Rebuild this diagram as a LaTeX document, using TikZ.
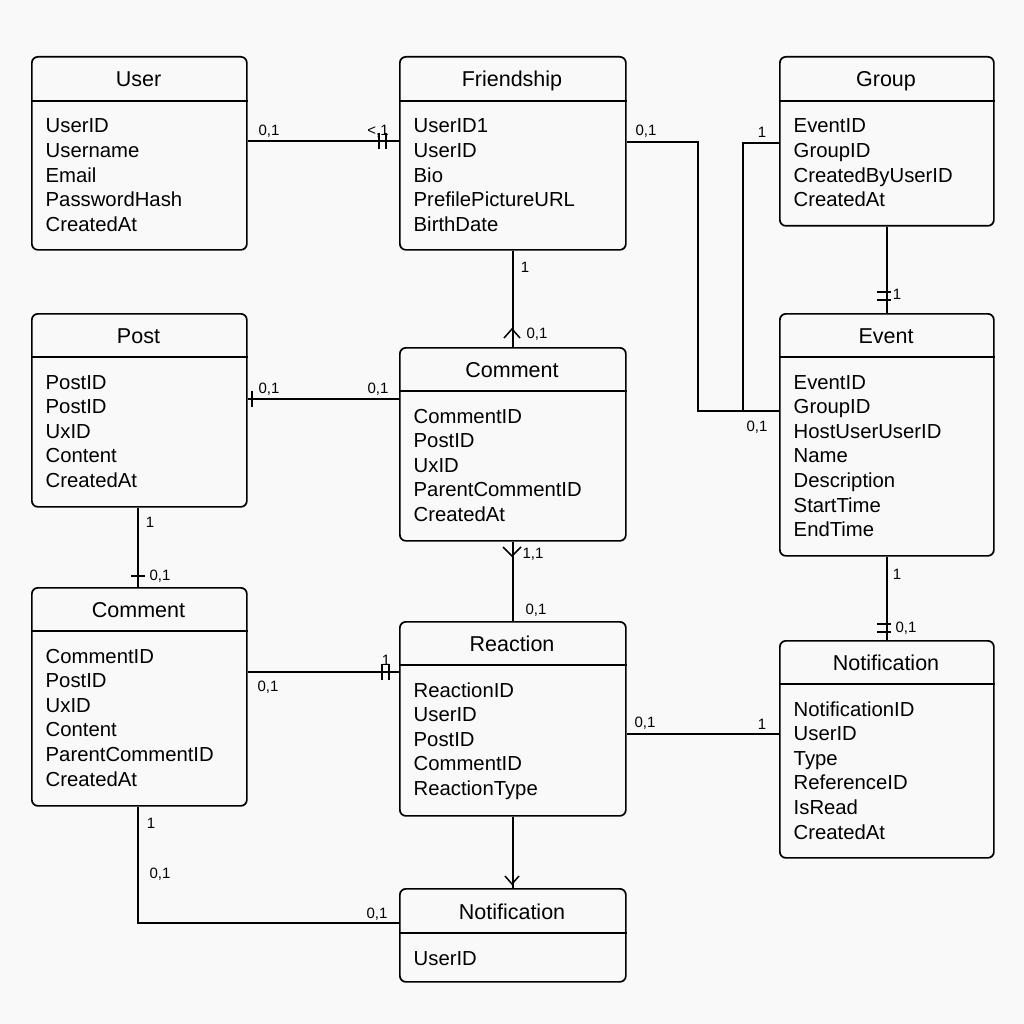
\documentclass[tikz,border=0pt]{standalone}
\usepackage{fontspec}
\setmainfont{Liberation Sans}
\definecolor{bgc}{HTML}{F9F9F9}
\tikzset{
  box/.style={draw=black, line width=1.7pt, rounded corners=6pt, fill=bgc, anchor=north west, inner sep=0pt},
  boxline/.style={line width=1.7pt},
  ttl/.style={font=\fontsize{21.5}{24}\selectfont, anchor=base, inner sep=0pt},
  attr/.style={font=\fontsize{20.3}{24}\selectfont, anchor=base west, inner sep=0pt},
  lbl/.style={font=\fontsize{15}{17}\selectfont, anchor=base, inner sep=0pt},
  conn/.style={line width=1.5pt},
  mk/.style={line width=1.5pt},
}
\newcommand\entity[8]{%
  \node[box, minimum width={#4-#2}, minimum height={#5-#3}] (#1) at (#2,#3) {};
  \draw[boxline] (#1.west |- 0,#6) -- (#1.east |- 0,#6);
  \node[ttl] (#1-t) at ({(#2+#4)/2},{#6-14}) {#7};
  \foreach \a [count=\i] in {#8} {\node[attr] (#1-a\i) at ({#2+14.5},{#6+32+24.6*(\i-1)}) {\a};}
}
\begin{document}
\begin{tikzpicture}[x=1pt,y=-1pt]
\fill[bgc] (0,0) rectangle (1024,1024);
\useasboundingbox (0,0) rectangle (1024,1024);

\entity{user}{31}{56}{246}{249}{101}{User}{UserID,Username,Email,PasswordHash,CreatedAt}
\entity{friend}{399}{56}{625}{249}{101}{Friendship}{UserID1,UserID,Bio,PrefilePictureURL,BirthDate}
\entity{group}{779}{56}{993}{225}{101}{Group}{EventID,GroupID,CreatedByUserID,CreatedAt}
\entity{post}{31}{313}{246}{506}{357}{Post}{PostID,PostID,UxID,Content,CreatedAt}
\entity{cmid}{399}{347}{625}{540}{391}{Comment}{CommentID,PostID,UxID,ParentCommentID,CreatedAt}
\entity{event}{779}{313}{993}{555}{357}{Event}{EventID,GroupID,HostUserUserID,Name,Description,StartTime,EndTime}
\entity{cleft}{31}{587}{246}{805}{631}{Comment}{CommentID,PostID,UxID,Content,ParentCommentID,CreatedAt}
\entity{react}{399}{621}{625}{815}{665}{Reaction}{ReactionID,UserID,PostID,CommentID,ReactionType}
\entity{nright}{779}{640}{993}{857}{684}{Notification}{NotificationID,UserID,Type,ReferenceID,IsRead,CreatedAt}
\entity{nbot}{399}{888}{625}{981}{933}{Notification}{UserID}

% 1 User - Friendship
\draw[conn] (user.east |- 0,141) -- (friend.west |- 0,141);
\draw[mk] (379,133) -- (379,149) (386,133) -- (386,149);
\node[lbl] (l1a) at (269,136) {0,1};
\node[lbl] (l1b) at (378,136) {<,1};
% 2 Friendship - Event
\coordinate (fe1) at (698,142);
\coordinate (fe2) at (698,411);
\draw[conn] (friend.east |- fe1) -- (fe1) -- (fe2) -- (event.west |- fe2);
\node[lbl] (l2a) at (646,136) {0,1};
\node[lbl] (l2b) at (757,431) {0,1};
% 3 Group - Event (joins)
\coordinate (ge1) at (743,143);
\coordinate (ge2) at (743,411);
\draw[conn] (group.west |- ge1) -- (ge1) -- (ge2);
\node[lbl] (l3a) at (762,138) {1};
% 4 Group - Event vertical
\draw[conn] (group.south) -- (event.north);
\draw[mk] (877,292) -- (891,292) (877,300) -- (891,300);
\node[lbl] (l4a) at (897,299) {1};
% 5 Friendship - Comment
\draw[conn] (friend.south) -- (cmid.north);
\draw[mk] (504,338) -- (512,329) -- (520,338);
\node[lbl] (l5a) at (525,272) {1};
\node[lbl] (l5b) at (537,338) {0,1};
% 6 Post - Comment mid
\draw[conn] (post.east |- 0,399) -- (cmid.west |- 0,399);
\draw[mk] (252,391) -- (252,407);
\node[lbl] (l6a) at (269,393) {0,1};
\node[lbl] (l6b) at (378,393) {0,1};
% 7 Post - Comment left
\draw[conn] (post.south -| 138,0) -- (cleft.north -| 138,0);
\draw[mk] (131,576) -- (145,576);
\node[lbl] (l7a) at (150,527) {1};
\node[lbl] (l7b) at (160,580) {0,1};
% 8 Comment mid - Reaction
\draw[conn] (cmid.south) -- (react.north);
\draw[mk] (503,547) -- (512,556) -- (521,547);
\node[lbl] (l8a) at (533,558) {1,1};
\node[lbl] (l8b) at (536,614) {0,1};
% 9 Comment left - Reaction
\draw[conn] (cleft.east |- 0,672) -- (react.west |- 0,672);
\draw[mk] (382,664) -- (382,680) (389,664) -- (389,680);
\node[lbl] (l9a) at (386,665) {1};
\node[lbl] (l9b) at (268,691) {0,1};
% 10 Reaction - Notification right
\draw[conn] (react.east |- 0,734) -- (nright.west |- 0,734);
\node[lbl] (l10a) at (645,727) {0,1};
\node[lbl] (l10b) at (762,729) {1};
% 11 Event - Notification right
\draw[conn] (event.south) -- (nright.north);
\draw[mk] (877,624) -- (891,624) (877,632) -- (891,632);
\node[lbl] (l11a) at (897,579) {1};
\node[lbl] (l11b) at (906,632) {0,1};
% 12 Reaction - Notification bottom
\draw[conn] (react.south) -- (nbot.north);
\draw[mk] (505,876) -- (512,884) -- (519,876);
% 13 Comment left - Notification bottom
\coordinate (cn1) at (138,923);
\draw[conn] (cleft.south -| cn1) -- (cn1) -- (nbot.west |- cn1);
\node[lbl] (l13a) at (151,828) {1};
\node[lbl] (l13b) at (160,878) {0,1};
\node[lbl] (l13c) at (377,918) {0,1};
\end{tikzpicture}
\end{document}
